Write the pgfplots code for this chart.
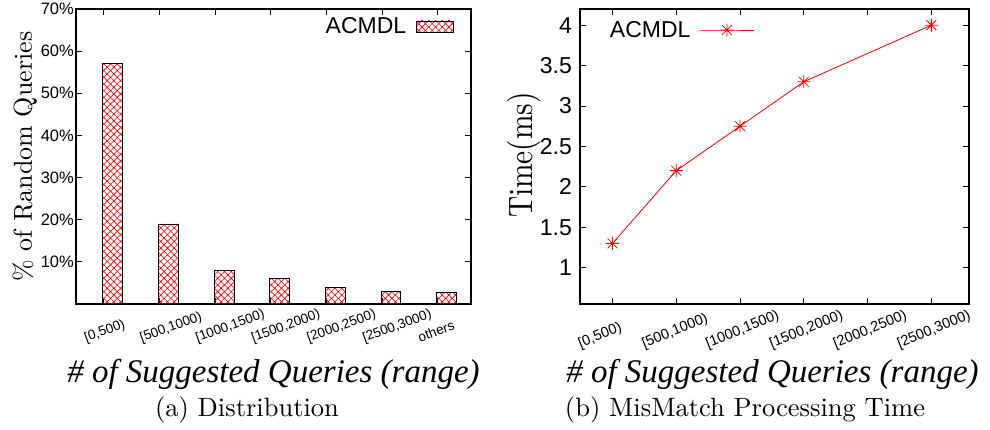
\documentclass[border=0pt]{standalone}
\usepackage{fontspec}
\usepackage{graphicx}
\usepackage{pgfplots}
\pgfplotsset{compat=1.18}
\usetikzlibrary{patterns}

\newfontfamily\helv{Liberation Sans}
\newfontfamily\tmsit{Liberation Serif}
\newfontfamily\lmr{lmroman10-regular.otf}

% slanted category labels
\newcommand{\rlA}[1]{\rotatebox{20}{#1}}
\newcommand{\rlB}[1]{\rotatebox{22}{#1}}

% red diagonal cross-hatching used to fill the bars
\pgfdeclarepatternformonly{diagcross}{\pgfqpoint{-1pt}{-1pt}}{\pgfqpoint{7.7pt}{7.7pt}}{\pgfqpoint{6.7pt}{6.7pt}}{%
  \pgfsetlinewidth{0.6pt}%
  \pgfpathmoveto{\pgfqpoint{-0.5pt}{-0.5pt}}\pgfpathlineto{\pgfqpoint{7.2pt}{7.2pt}}%
  \pgfpathmoveto{\pgfqpoint{-0.5pt}{7.2pt}}\pgfpathlineto{\pgfqpoint{7.2pt}{-0.5pt}}%
  \pgfusepath{stroke}}

% gnuplot-style star: a plus and a cross on top of each other
\pgfdeclareplotmark{gpstar}{%
  \pgfpathmoveto{\pgfqpoint{-\pgfplotmarksize}{0pt}}\pgfpathlineto{\pgfqpoint{\pgfplotmarksize}{0pt}}%
  \pgfpathmoveto{\pgfqpoint{0pt}{-\pgfplotmarksize}}\pgfpathlineto{\pgfqpoint{0pt}{\pgfplotmarksize}}%
  \pgfpathmoveto{\pgfqpoint{-.75\pgfplotmarksize}{-.75\pgfplotmarksize}}\pgfpathlineto{\pgfqpoint{.75\pgfplotmarksize}{.75\pgfplotmarksize}}%
  \pgfpathmoveto{\pgfqpoint{-.75\pgfplotmarksize}{.75\pgfplotmarksize}}\pgfpathlineto{\pgfqpoint{.75\pgfplotmarksize}{-.75\pgfplotmarksize}}%
  \pgfusepathqstroke}

\pgfplotsset{
  gpaxis/.style={
    anchor=south west, scale only axis, height=295pt,
    axis line style={line width=1.2pt, black},
    tick align=inside, major tick length=6pt,
    tick style={line width=0.8pt, black},
    xlabel style={at={(axis description cs:0.5,0)}, anchor=base,
      font=\tmsit\itshape\fontsize{33pt}{33pt}\selectfont},
    xlabel={\# of Suggested Queries (range)},
    yticklabel style={inner sep=0pt, anchor=east},
    legend style={draw=none, fill=none, inner sep=0pt, outer sep=0pt,
      nodes={inner sep=0pt}, font=\helv\fontsize{23pt}{23pt}\selectfont},
    legend plot pos=right, legend cell align=right,
  }
}

\begin{document}
\begin{tikzpicture}
\useasboundingbox (0,0) rectangle (990pt,429pt);

% (a) distribution of suggested-query counts
\begin{axis}[gpaxis,
  at={(76pt,125pt)}, width=395pt,
  xmin=-0.5, xmax=6.6, ymin=0, ymax=70,
  xtick={0,...,6},
  xticklabels={\rlA{[0,500)},\rlA{[500,1000)},\rlA{[1000,1500)},\rlA{[1500,2000)},\rlA{[2000,2500)},\rlA{[2500,3000)},\rlA{others}},
  xticklabel style={inner sep=0pt, anchor=base west, xshift=-21pt, yshift=-38pt,
    font=\helv\fontsize{13.5pt}{13.5pt}\selectfont},
  ytick={10,20,...,70},
  yticklabels={10\%,20\%,30\%,40\%,50\%,60\%,70\%},
  yticklabel style={xshift=-2pt, font=\helv\fontsize{16.5pt}{16.5pt}\selectfont},
  xlabel style={yshift=-78pt},
  ylabel={\% of Random Queries},
  ylabel style={at={(axis description cs:-0.1114,0.5)}, anchor=base,
    font=\lmr\fontsize{26pt}{26pt}\selectfont},
  legend style={at={(axis description cs:0.957,0.9407)}, anchor=east, column sep=10pt},
  legend image code/.code={\draw[#1] (0pt,-5.5pt) rectangle (37pt,5.5pt);},
]
\addplot[ybar, bar width=0.357, draw=black, line width=0.8pt,
  pattern=diagcross, pattern color=red]
  coordinates {(0.16,57) (1.16,19) (2.16,8) (3.16,6.1) (4.16,4) (5.16,2.9) (6.16,2.8)};
\addlegendentry{ACMDL}
\end{axis}

% (b) MisMatch processing time
\begin{axis}[gpaxis,
  at={(580pt,125pt)}, width=389pt,
  xmin=-0.51, xmax=5.59, ymin=0.55, ymax=4.2,
  xtick={0,...,5},
  xticklabels={\rlB{[0,500)},\rlB{[500,1000)},\rlB{[1000,1500)},\rlB{[1500,2000)},\rlB{[2000,2500)},\rlB{[2500,3000)}},
  xticklabel style={inner sep=0pt, anchor=base west, xshift=-36pt, yshift=-44pt,
    font=\helv\fontsize{14.5pt}{14.5pt}\selectfont},
  ytick={1,1.5,...,4},
  yticklabels={1,1.5,2,2.5,3,3.5,4},
  yticklabel style={xshift=-8pt, font=\helv\fontsize{23pt}{23pt}\selectfont},
  xlabel style={yshift=-78pt, xshift=-2pt},
  ylabel={\scalebox{1}[1.15]{Time(ms)}},
  ylabel style={at={(axis description cs:-0.1234,0.505)}, anchor=base,
    font=\lmr\fontsize{29.4pt}{29.4pt}\selectfont},
  legend style={at={(axis description cs:0.0771,0.9288)}, anchor=west, column sep=9pt},
  legend image code/.code={\draw[mark repeat=2, mark phase=2, #1] plot coordinates {(0pt,0pt) (27pt,0pt) (54pt,0pt)};},
]
\addplot[red, line width=0.8pt, mark=gpstar, mark size=6.5pt]
  coordinates {(0,1.3) (1,2.2) (2,2.75) (3,3.3) (5,4.0)};
\addlegendentry{ACMDL}
\end{axis}

\node[anchor=base, font=\lmr\fontsize{26.5pt}{26.5pt}\selectfont] at (247pt,13pt) {(a) Distribution};
\node[anchor=base, font=\lmr\fontsize{26.5pt}{26.5pt}\selectfont] at (745pt,13pt) {(b) MisMatch Processing Time};
\end{tikzpicture}
\end{document}
